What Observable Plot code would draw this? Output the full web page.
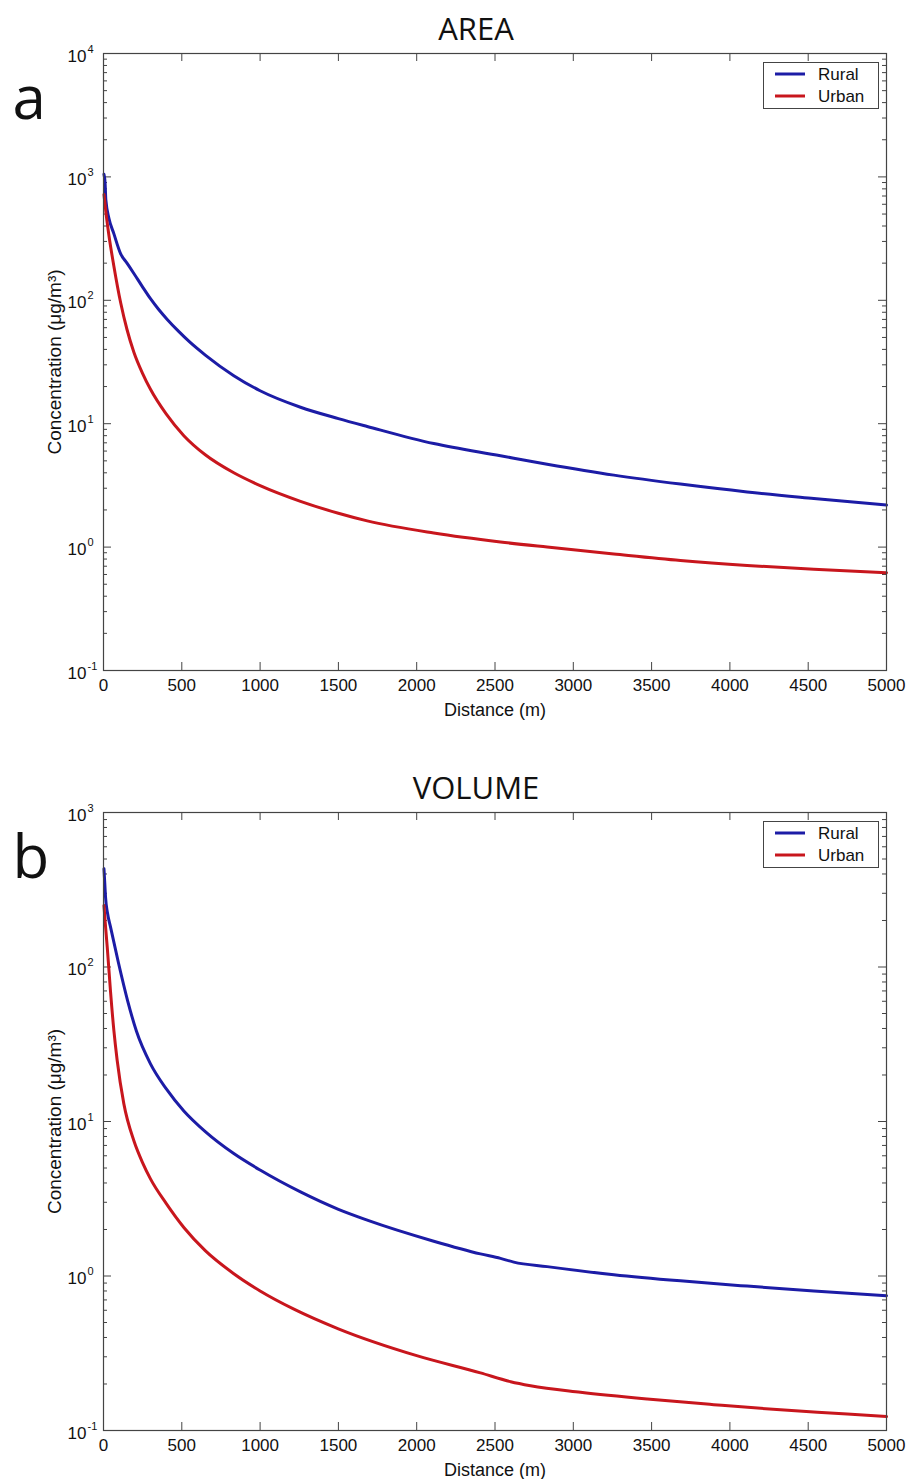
<!DOCTYPE html>
<html><head><meta charset="utf-8">
<script src="https://cdn.jsdelivr.net/npm/d3@7"></script>
<script src="https://cdn.jsdelivr.net/npm/@observablehq/plot@0.6"></script>
<style>
body{margin:0;background:#fff;}
#wrap{position:relative;width:912px;height:1479px;overflow:hidden;}
#wrap svg{display:block;}
.legend{position:absolute;box-sizing:border-box;width:116px;height:47px;border:1px solid #444;background:#fff;}
</style></head><body><div id="wrap"></div>
<script>
// ---------- data ----------
const distanceTicks = [0, 500, 1000, 1500, 2000, 2500, 3000, 3500, 4000, 4500, 5000];
const decadesA = [-1, 0, 1, 2, 3, 4];
const decadesB = [-1, 0, 1, 2, 3];
const minorMultipliers = [2, 3, 4, 5, 6, 7, 8, 9];
const seriesNames = ["Rural", "Urban"];
const seriesColors = ["#1c1ca6", "#c8161d"];

// Panel a (AREA)
const ruralAreaDist = [3, 10, 15, 35, 66, 109, 150, 194, 250, 300, 350, 407, 480, 550, 650, 832, 1000, 1258, 1500, 1684, 2109, 2535, 2833, 3259, 3684, 4110, 4536, 5000];
const ruralAreaConc = [1050, 900, 650, 460, 347, 239, 200, 165, 128, 103, 85, 70, 56, 46, 36, 24.5, 18.5, 13.6, 11.0, 9.5, 6.9, 5.5, 4.7, 3.83, 3.24, 2.80, 2.48, 2.19];
const urbanAreaDist = [3, 15, 34, 66, 110, 150, 194, 250, 300, 400, 513, 650, 832, 1000, 1258, 1500, 1684, 2109, 2535, 2833, 3259, 3684, 4110, 4536, 5000];
const urbanAreaConc = [720, 520, 340, 190, 95, 58, 38, 25.5, 19, 12, 8, 5.6, 4.0, 3.15, 2.35, 1.88, 1.63, 1.3, 1.1, 1.0, 0.88, 0.78, 0.71, 0.66, 0.62];

// Panel b (VOLUME)
const ruralVolDist = [3, 8, 13, 25, 45, 95, 155, 210, 300, 400, 513, 650, 832, 1000, 1258, 1500, 1684, 2109, 2407, 2535, 2620, 2833, 3259, 3684, 4110, 4536, 5000];
const ruralVolConc = [432, 350, 283, 225, 181, 107, 60, 38.5, 23.6, 16.3, 11.7, 8.6, 6.2, 4.85, 3.5, 2.7, 2.3, 1.68, 1.39, 1.30, 1.23, 1.15, 1.02, 0.93, 0.86, 0.80, 0.745];
const urbanVolDist = [3, 10, 24, 45, 66, 87, 130, 194, 250, 300, 400, 513, 650, 832, 1000, 1216, 1500, 2000, 2407, 2600, 2727, 3046, 3472, 3897, 4323, 4749, 5000];
const urbanVolConc = [250, 200, 134, 69, 39, 25, 13, 7.5, 5.4, 4.25, 2.95, 2.06, 1.46, 1.035, 0.8, 0.61, 0.455, 0.305, 0.236, 0.207, 0.195, 0.177, 0.160, 0.147, 0.136, 0.128, 0.123];

const xLabel = "Distance (m)";
const yLabel = "Concentration (\u03bcg/m\u00b3)";

// ---------- helpers ----------
const zip = (ds, vs) => ds.map((d, i) => ({d, v: vs[i]}));
const FONT = "Liberation Sans, Arial, sans-serif";
const TITLEFONT = "Open Sans, Lato, sans-serif";

function panel({title, letter, decades, rural, urban, height, marginTop, marginBottom, top}) {
  const marginLeft = 103, marginRight = 26, width = 912;
  const W = width - marginLeft - marginRight;
  const H = height - marginTop - marginBottom;
  const major = decades.map(e => Math.pow(10, e));
  const minor = decades.slice(0, -1).flatMap(e => minorMultipliers.map(m => m * Math.pow(10, e)));
  const ax = "#444";
  const plot = Plot.plot({
    width, height, marginLeft, marginRight, marginTop, marginBottom,
    style: {fontFamily: FONT, background: "#fff", overflow: "visible"},
    x: {domain: [0, 5000], axis: null},
    y: {type: "log", domain: [major[0], major[major.length - 1]], axis: null},
    marks: [
      // ticks (inward, MATLAB style)
      Plot.tickX(distanceTicks, {x: d => d, insetTop: H - 8, stroke: ax}),
      Plot.tickX(distanceTicks, {x: d => d, insetBottom: H - 8, stroke: ax}),
      Plot.tickY(major, {y: d => d, insetRight: W - 8, stroke: ax}),
      Plot.tickY(major, {y: d => d, insetLeft: W - 8, stroke: ax}),
      Plot.tickY(minor, {y: d => d, insetRight: W - 4, stroke: ax}),
      Plot.tickY(minor, {y: d => d, insetLeft: W - 4, stroke: ax}),
      // curves
      Plot.line(rural, {x: "d", y: "v", stroke: seriesColors[0], strokeWidth: 3, curve: "monotone-x"}),
      Plot.line(urban, {x: "d", y: "v", stroke: seriesColors[1], strokeWidth: 3, curve: "monotone-x"}),
      Plot.frame({stroke: ax, strokeWidth: 1.2}),
      // x tick labels
      Plot.text(distanceTicks, {x: d => d, frameAnchor: "bottom", dy: 20, lineAnchor: "bottom", text: d => String(d), fontSize: 17, fill: "#111"}),
      // y tick labels: "10" + superscript exponent
      Plot.text(major, {y: d => d, frameAnchor: "left", dx: -17, dy: 8, textAnchor: "end", lineAnchor: "bottom", text: () => "10", fontSize: 17, fill: "#111"}),
      Plot.text(major, {y: d => d, frameAnchor: "left", dx: -16, dy: -1, textAnchor: "start", lineAnchor: "bottom", text: d => String(Math.round(Math.log10(d))), fontSize: 11, fill: "#111"}),
      // axis labels
      Plot.text([xLabel], {frameAnchor: "bottom", dy: 45, lineAnchor: "bottom", text: d => d, fontSize: 18, fill: "#111"}),
      Plot.text([yLabel], {frameAnchor: "left", dx: -43, rotate: -90, textAnchor: "middle", lineAnchor: "bottom", text: d => d, fontSize: 19, fill: "#111"}),
      // title and panel letter
      Plot.text([title], {frameAnchor: "top", dx: -19, dy: -14, lineAnchor: "bottom", text: d => d, fontSize: 31, fontFamily: TITLEFONT, fill: "#111"}),
      Plot.text([letter], {frameAnchor: "top-left", dx: -91, dy: 65, textAnchor: "start", lineAnchor: "bottom", text: d => d, fontSize: 60, fontFamily: TITLEFONT, fill: "#111"})
    ]
  });
  const wrap = document.getElementById("wrap");
  wrap.appendChild(plot);
  // legend box (inside top-right of the frame)
  const lg = document.createElement("div");
  lg.className = "legend";
  lg.style.left = (width - marginRight - 7 - 116) + "px";
  lg.style.top = (top + marginTop + 9) + "px";
  const ns = "http://www.w3.org/2000/svg";
  const svg = document.createElementNS(ns, "svg");
  svg.setAttribute("width", 114); svg.setAttribute("height", 45);
  seriesNames.forEach((name, i) => {
    const y = 11 + i * 22;
    const l = document.createElementNS(ns, "line");
    l.setAttribute("x1", 11); l.setAttribute("x2", 41);
    l.setAttribute("y1", y); l.setAttribute("y2", y);
    l.setAttribute("stroke", seriesColors[i]); l.setAttribute("stroke-width", 3);
    svg.appendChild(l);
    const t = document.createElementNS(ns, "text");
    t.setAttribute("x", 54); t.setAttribute("y", y + 6);
    t.setAttribute("font-family", FONT); t.setAttribute("font-size", 17); t.setAttribute("fill", "#111");
    t.textContent = name;
    svg.appendChild(t);
  });
  lg.appendChild(svg);
  wrap.appendChild(lg);
}

panel({title: "AREA", letter: "a", decades: decadesA,
  rural: zip(ruralAreaDist, ruralAreaConc), urban: zip(urbanAreaDist, urbanAreaConc),
  height: 740, marginTop: 53, marginBottom: 70, top: 0});
panel({title: "VOLUME", letter: "b", decades: decadesB,
  rural: zip(ruralVolDist, ruralVolConc), urban: zip(urbanVolDist, urbanVolConc),
  height: 739, marginTop: 72, marginBottom: 49, top: 740});
</script>
</body></html>
